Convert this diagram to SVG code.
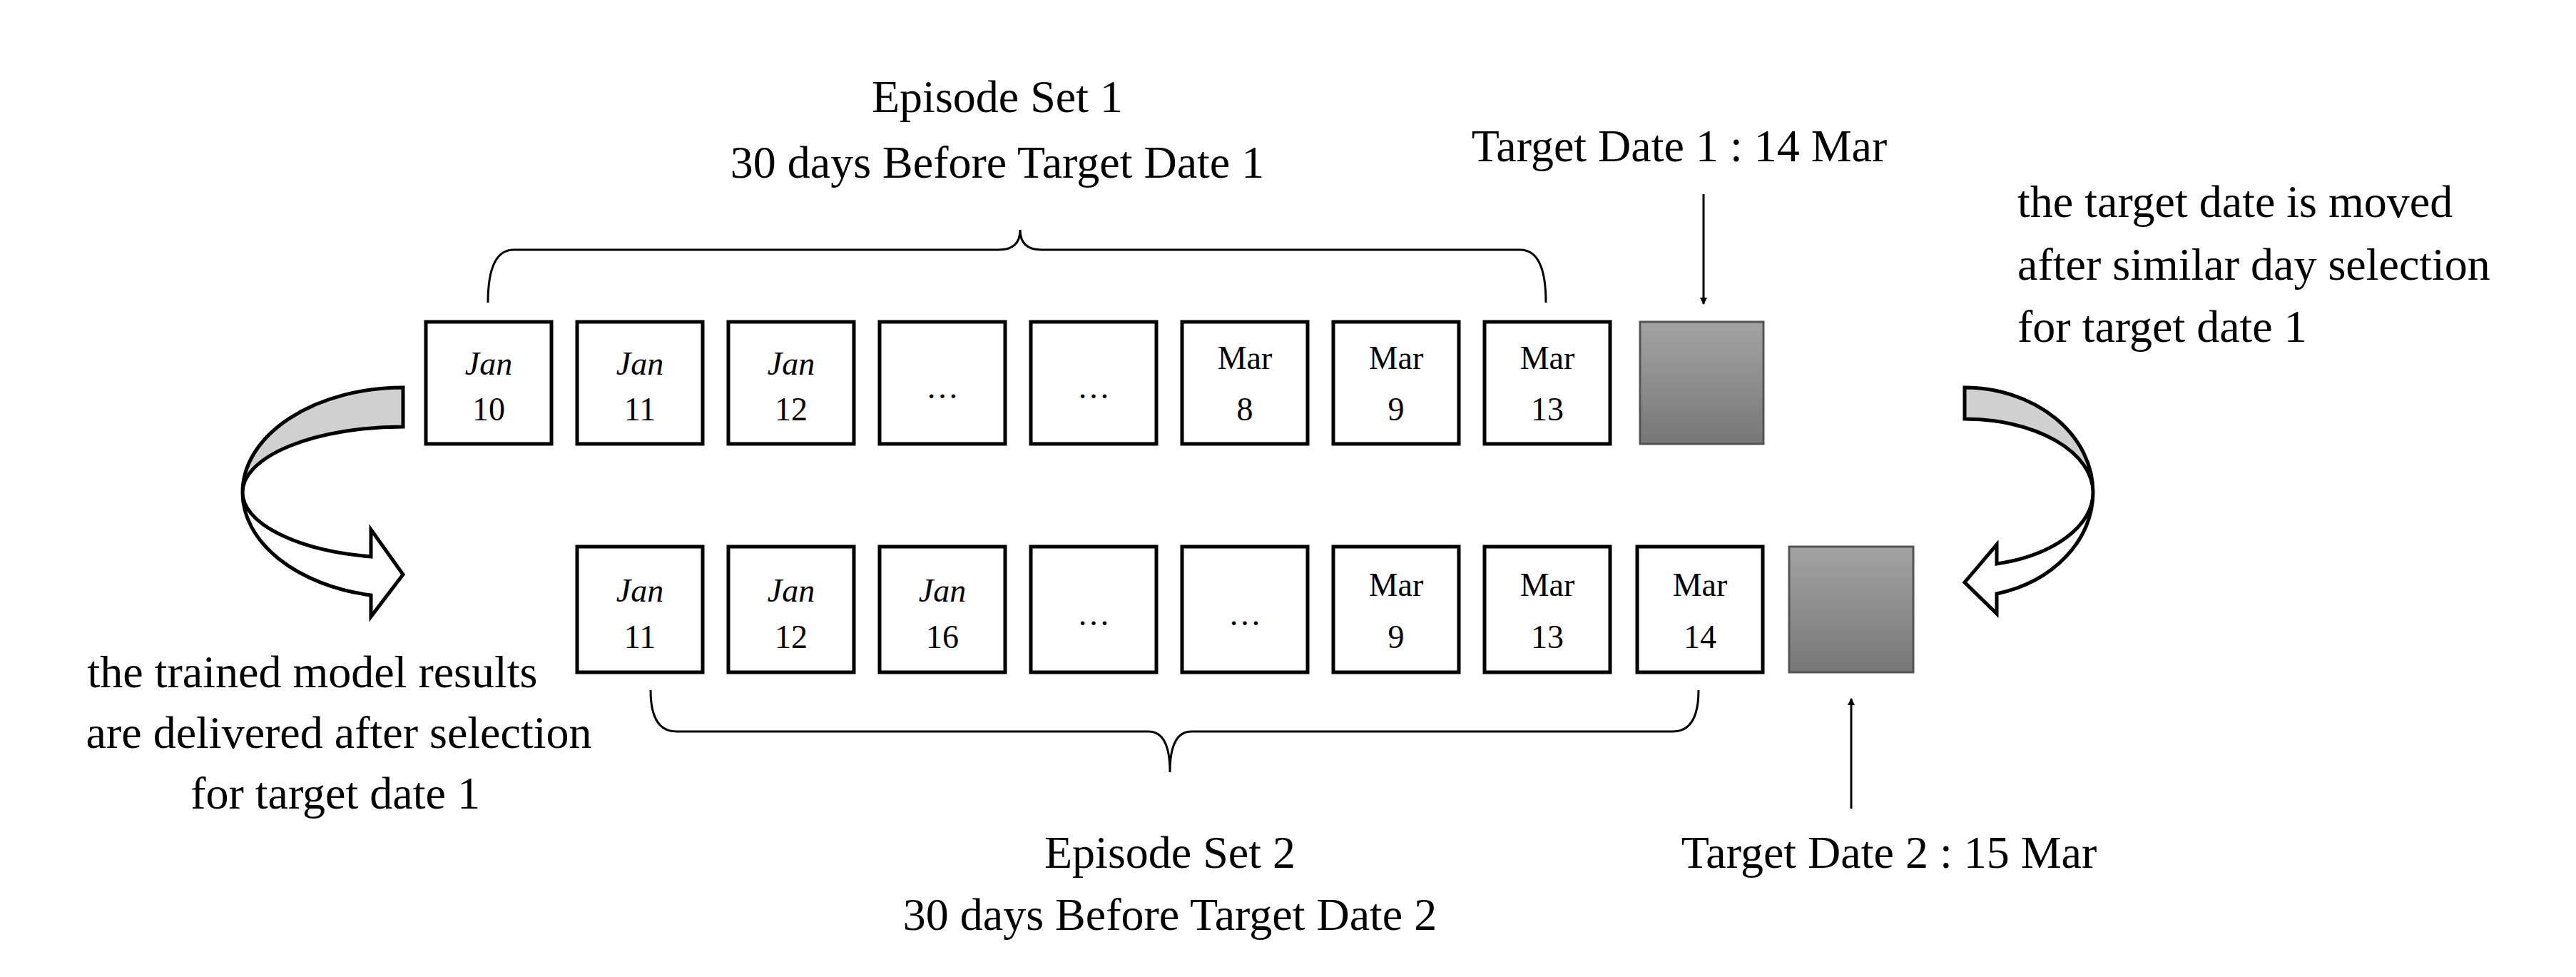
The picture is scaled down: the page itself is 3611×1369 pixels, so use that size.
<svg xmlns="http://www.w3.org/2000/svg" width="3611" height="1369" viewBox="0 0 3611 1369">
<defs>
<linearGradient id="g" x1="0" y1="0" x2="0" y2="1"><stop offset="0" stop-color="#a3a3a3"/><stop offset="1" stop-color="#777"/></linearGradient>
<marker id="ah" markerWidth="10" markerHeight="10" refX="9" refY="5" orient="auto" markerUnits="userSpaceOnUse" viewBox="0 0 10 10"><path d="M0,0 L10,5 L0,10 Z" fill="#000"/></marker>
</defs>
<style>
.t{font-family:"Liberation Serif",serif;font-size:64px;fill:#000}
.b{fill:#fff;stroke:#000;stroke-width:5}
.gb{fill:url(#g);stroke:#555;stroke-width:3}
.d{font-family:"Liberation Serif",serif;font-size:46px;text-anchor:middle}
.i{font-style:italic}
.ln{fill:none;stroke:#000;stroke-width:3}
</style>
<rect width="3611" height="1369" fill="#fff"/>
<g id="labels" class="t">
<text x="1398" y="157" text-anchor="middle">Episode Set 1</text>
<text x="1398" y="249" text-anchor="middle">30 days Before Target Date 1</text>
<text x="2354" y="226" text-anchor="middle">Target Date 1 : 14 Mar</text>
<text x="2828" y="304">the target date is moved</text>
<text x="2828" y="392">after similar day selection</text>
<text x="2828" y="479">for target date 1</text>
<text x="438" y="963" text-anchor="middle">the trained model results</text>
<text x="475" y="1048" text-anchor="middle">are delivered after selection</text>
<text x="470" y="1133" text-anchor="middle">for target date 1</text>
<text x="1640" y="1216" text-anchor="middle">Episode Set 2</text>
<text x="1640" y="1303" text-anchor="middle">30 days Before Target Date 2</text>
<text x="2648" y="1216" text-anchor="middle">Target Date 2 : 15 Mar</text>
</g>
<g id="row1">
<rect class="b" x="597" y="451" width="176" height="171"/><text class="d i" x="685" y="525">Jan</text><text class="d" x="685" y="589">10</text>
<rect class="b" x="809" y="451" width="176" height="171"/><text class="d i" x="897" y="525">Jan</text><text class="d" x="897" y="589">11</text>
<rect class="b" x="1021" y="451" width="176" height="171"/><text class="d i" x="1109" y="525">Jan</text><text class="d" x="1109" y="589">12</text>
<rect class="b" x="1233" y="451" width="176" height="171"/><text class="d" x="1321" y="558">…</text>
<rect class="b" x="1445" y="451" width="176" height="171"/><text class="d" x="1533" y="558">…</text>
<rect class="b" x="1657" y="451" width="176" height="171"/><text class="d" x="1745" y="517">Mar</text><text class="d" x="1745" y="589">8</text>
<rect class="b" x="1869" y="451" width="176" height="171"/><text class="d" x="1957" y="517">Mar</text><text class="d" x="1957" y="589">9</text>
<rect class="b" x="2081" y="451" width="176" height="171"/><text class="d" x="2169" y="517">Mar</text><text class="d" x="2169" y="589">13</text>
<rect class="gb" x="2299" y="451" width="173" height="171"/>
</g>
<g id="row2">
<rect class="b" x="809" y="766" width="176" height="176"/><text class="d i" x="897" y="843">Jan</text><text class="d" x="897" y="908">11</text>
<rect class="b" x="1021" y="766" width="176" height="176"/><text class="d i" x="1109" y="843">Jan</text><text class="d" x="1109" y="908">12</text>
<rect class="b" x="1233" y="766" width="176" height="176"/><text class="d i" x="1321" y="843">Jan</text><text class="d" x="1321" y="908">16</text>
<rect class="b" x="1445" y="766" width="176" height="176"/><text class="d" x="1533" y="876">…</text>
<rect class="b" x="1657" y="766" width="176" height="176"/><text class="d" x="1745" y="876">…</text>
<rect class="b" x="1869" y="766" width="176" height="176"/><text class="d" x="1957" y="835">Mar</text><text class="d" x="1957" y="908">9</text>
<rect class="b" x="2081" y="766" width="176" height="176"/><text class="d" x="2169" y="835">Mar</text><text class="d" x="2169" y="908">13</text>
<rect class="b" x="2295" y="766" width="176" height="176"/><text class="d" x="2383" y="835">Mar</text><text class="d" x="2383" y="908">14</text>
<rect class="gb" x="2508" y="766" width="174" height="176"/>
</g>
<g id="connectors">
<path class="ln" d="M684,424 Q684,350 720,350 L1400,350 Q1430,350 1430,322 Q1430,350 1460,350 L2131,350 Q2167,350 2167,424"/>
<path class="ln" d="M912,967 Q912,1025 948,1025 L1610,1025 Q1640,1025 1640,1082 Q1640,1025 1670,1025 L2345,1025 Q2381,1025 2381,967"/>
<line class="ln" x1="2388" y1="272" x2="2388" y2="426" marker-end="url(#ah)"/>
<line class="ln" x1="2595" y1="1133" x2="2595" y2="979" marker-end="url(#ah)"/>
<path d="M565,543 A225,147 0 0 0 340,690 A225,92 0 0 1 565,598 Z" fill="#d0d0d0" stroke="#000" stroke-width="5"/>
<path d="M340,690 A225,147 0 0 0 520,834 L520,864 L565,805 L520,742 L520,780 A225,92 0 0 1 340,690 Z" fill="#fff" stroke="#000" stroke-width="5"/>
<path d="M2754,543 A180,147 0 0 1 2934,690 A180,103 0 0 0 2754,587 Z" fill="#d0d0d0" stroke="#000" stroke-width="5"/>
<path d="M2934,690 A180,147 0 0 1 2799,832 L2799,860 L2754,816 L2799,763 L2799,790 A180,103 0 0 0 2934,690 Z" fill="#fff" stroke="#000" stroke-width="5"/>
</g>
</svg>
